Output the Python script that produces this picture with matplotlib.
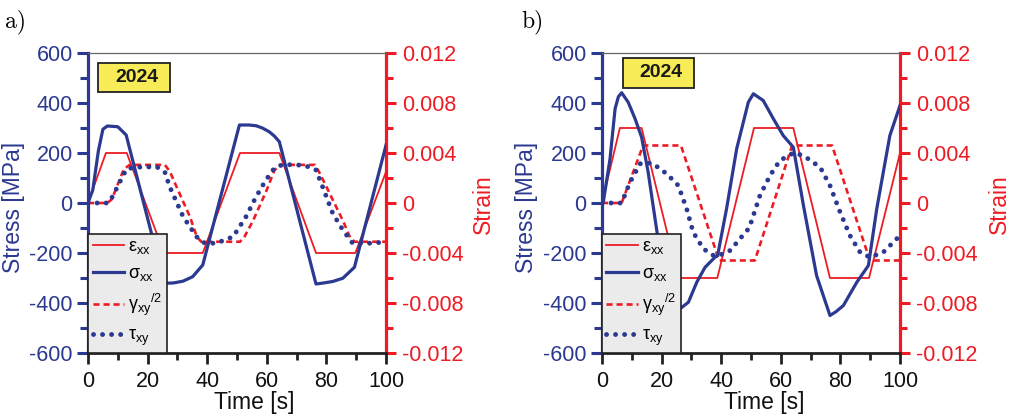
import matplotlib
matplotlib.use('Agg')
import matplotlib.pyplot as plt
from matplotlib.patches import Rectangle
from matplotlib.ticker import MultipleLocator, FuncFormatter

plt.rcParams['font.family'] = ['Liberation Sans', 'DejaVu Sans']
plt.rcParams['axes.unicode_minus'] = False
plt.rcParams['mathtext.default'] = 'regular'

BLUE = '#2b3990'
RED = '#ed1c24'

# ---------------- Panel a data ----------------
t_eps_a = [0, 6, 13, 25.5, 38.5, 51, 64.2, 76.5, 89.7, 100]
eps_a = [0, 0.004, 0.004, -0.004, -0.004, 0.004, 0.004, -0.004, -0.004, 0.0025]

t_sig_a = [0, 1.6, 3.5, 5.0, 6.5, 10, 12.8, 25.6, 28.5, 31.8, 35.1, 38.5, 50.8, 54, 56.4,
           58.5, 60.8, 62.5, 64.2, 76.5, 79, 82.1, 85.5, 89.4, 100]
sig_a = [0, 52, 210, 295, 308, 305, 272, -321, -320, -313, -295, -248, 312, 312, 309,
         300, 285, 268, 245, -324, -320, -314, -301, -257, 232]

t_gam_a = [0, 6.5, 8, 12, 14, 25.8, 27.5, 29.7, 34.2, 36.5, 38, 51, 52.5, 55.4, 59.9,
           62.5, 64.4, 76.1, 77.5, 80.6, 85.7, 88, 89.5, 100]
gam_a = [0, 0, 0.0003, 0.0027, 0.00305, 0.00305, 0.0025, 0.0013, -0.0011, -0.0027, -0.0031,
         -0.0031, -0.0027, -0.0014, 0.001, 0.0026, 0.00305, 0.00305, 0.0025, 0.001, -0.0015,
         -0.0028, -0.0031, -0.0031]

t_tau_a = [0, 6.5, 7.3, 9.5, 12.9, 16.2, 23, 25.8, 27.4, 31.9, 36.4, 39.2, 43, 48.7, 53,
           56.4, 59.7, 62.5, 65, 69.5, 74, 76.5, 78.7, 82.1, 85.5, 88.8, 94.4, 100]
tau_a = [0, 0, 5, 56, 136, 143, 145, 123, 65, -54, -135, -161, -161, -135, -55,
         25, 92, 139, 152, 154, 145, 132, 65, -41, -108, -161, -161, -156]

# ---------------- Panel b data ----------------
t_eps_b = [0, 6, 13.3, 25.6, 38.7, 51, 64.2, 76.5, 89.6, 100]
eps_b = [0, 0.006, 0.006, -0.006, -0.006, 0.006, 0.006, -0.006, -0.006, 0.004]

t_sig_b = [0, 0.4, 2.7, 4.4, 5.5, 6.6, 8.8, 11.1, 13.3, 15.5, 18.3, 20, 21.5, 23, 24.5,
           26.2, 29, 31.8, 34.6, 37.9, 38.8, 41.8, 45.2, 49.1, 50.8, 54.1, 57.5, 60.8,
           64.2, 67.6, 72, 76.5, 78.5, 81, 85.5, 89.4, 92.2, 96.6, 100]
sig_b = [0, 0, 177, 377, 425, 441, 403, 337, 263, 123, -103, -230, -340, -410, -430,
         -423, -397, -317, -257, -217, -210, -23, 217, 403, 437, 410, 337, 270,
         223, -10, -290, -450, -435, -410, -317, -250, -23, 270, 390]

t_gam_b = [0, 6.6, 13.8, 26.5, 39.3, 51.3, 63.8, 77.2, 89.9, 100]
gam_b = [0, 0, 0.0046, 0.0046, -0.0046, -0.0046, 0.0046, 0.0046, -0.0046, -0.0046]

t_tau_b = [0, 6.6, 9.4, 12.8, 16.8, 21.7, 25.6, 28.4, 30.6, 34, 37.4, 38.6, 43, 46.3,
           49.4, 53, 56.4, 59.7, 64.2, 67.6, 73.2, 76.5, 79.9, 83.2, 86.6, 89.9, 94.4, 100]
tau_b = [0, 0, 83, 157, 160, 117, 70, -23, -117, -183, -210, -213, -190, -143,
         -100, 30, 110, 170, 200, 190, 143, 70, -37, -130, -197, -217, -197, -130]

x_ticks = [0, 20, 40, 60, 80, 100]
legend_labels = [r'$ε_{xx}$', r'$σ_{xx}$', r'$γ_{xy}{}^{/2}$', r'$τ_{xy}$']

fig = plt.figure(figsize=(10.21, 4.17), dpi=100)


def strain_fmt(v, pos):
    return '0' if abs(v) < 1e-12 else '%.3f' % v


def panel(left, label, label_x, t_eps, eps, t_sig, sig, t_gam, gam, t_tau, tau,
          box, text_xy, xlab_x, ylab_x, slab_x):
    ax = fig.add_axes([left, 0.1535, 0.2919, 0.7194])
    ax2 = ax.twinx()
    ax.set_zorder(ax2.get_zorder() + 1)
    ax.patch.set_visible(False)

    l_eps, = ax2.plot(t_eps, eps, color=RED, lw=1.3)
    l_gam, = ax2.plot(t_gam, gam, color=RED, lw=1.9, linestyle=(0, (2.3, 1.5)))
    l_sig, = ax.plot(t_sig, sig, color=BLUE, lw=2.3)
    l_tau, = ax.plot(t_tau, tau, color=BLUE, lw=3.5, linestyle=(0, (0.01, 1.85)),
                     dash_capstyle='round')

    ax.set_xlim(0, 100)
    ax.set_ylim(-600, 600)
    ax2.set_ylim(-0.012, 0.012)
    ax.set_xticks(x_ticks)
    ax.xaxis.set_minor_locator(MultipleLocator(10))
    ax.yaxis.set_major_locator(MultipleLocator(200))
    ax.yaxis.set_minor_locator(MultipleLocator(100))
    ax2.yaxis.set_major_locator(MultipleLocator(0.004))
    ax2.yaxis.set_minor_locator(MultipleLocator(0.002))
    ax2.yaxis.set_major_formatter(FuncFormatter(strain_fmt))

    ax.spines['right'].set_visible(False)
    for s in ['left', 'top', 'bottom']:
        ax2.spines[s].set_visible(False)
    ax.spines['left'].set_color(BLUE)
    ax.spines['left'].set_linewidth(2.3)
    ax.spines['bottom'].set_color('#222222')
    ax.spines['bottom'].set_linewidth(2.0)
    ax.spines['top'].set_color('#666666')
    ax.spines['top'].set_linewidth(0.9)
    ax2.spines['right'].set_color(RED)
    ax2.spines['right'].set_linewidth(2.3)

    ax.yaxis.set_ticks_position('left')
    ax.xaxis.set_ticks_position('bottom')
    ax.tick_params(axis='y', which='both', direction='out', color=BLUE, labelcolor=BLUE,
                   width=2.2, labelsize=15.5, pad=3)
    ax.tick_params(axis='y', which='major', length=8)
    ax.tick_params(axis='y', which='minor', length=5.5)
    ax.tick_params(axis='x', which='both', direction='out', color='#222222',
                   labelcolor='#111111', width=2.0, labelsize=15.5, pad=5)
    ax.tick_params(axis='x', which='major', length=8)
    ax.tick_params(axis='x', which='minor', length=5)
    ax2.tick_params(axis='y', which='both', direction='out', color=RED, labelcolor=RED,
                    width=2.2, labelsize=15.5, pad=4)
    ax2.tick_params(axis='y', which='major', length=7.5)
    ax2.tick_params(axis='y', which='minor', length=5)

    ax.set_xlabel('Time [s]', fontsize=16.5, color='#111111')
    ax.xaxis.set_label_coords(xlab_x, -0.128)
    ax.set_ylabel('Stress [MPa]', fontsize=16.5, color=BLUE)
    ax.yaxis.set_label_coords(ylab_x, 0.485)
    ax2.set_ylabel('Strain', fontsize=16.5, color=RED)
    ax2.yaxis.set_label_coords(slab_x, 0.497)

    leg = ax.legend([l_eps, l_sig, l_gam, l_tau], legend_labels, loc='lower left',
                    bbox_to_anchor=(0, 0), borderaxespad=0, fontsize=13,
                    handlelength=1.75, handletextpad=0.2, borderpad=0.25,
                    labelspacing=0.5, fancybox=False, framealpha=1,
                    facecolor='#ebebeb', edgecolor='#222222')
    leg.get_frame().set_linewidth(1.2)

    x0, y0, w, h = box
    ax.add_patch(Rectangle((x0, y0), w, h, transform=ax.transAxes, facecolor='#f7ec57',
                           edgecolor='#222222', lw=1.3, zorder=5, clip_on=False))
    ax.text(text_xy[0], text_xy[1], '2024', transform=ax.transAxes, fontsize=14,
            fontweight='bold', color='#1a1a1a', ha='center', va='center', zorder=6)

    fig.text(label_x, 0.935, label, family='cmr10', fontsize=17, va='baseline')


panel(0.0862, 'a)', 0.0049, t_eps_a, eps_a, t_sig_a, sig_a, t_gam_a, gam_a, t_tau_a, tau_a,
      (0.0345, 0.87, 0.24, 0.097), (0.164, 0.918), 0.557, -0.211, 1.29)
panel(0.5896, 'b)', 0.511, t_eps_b, eps_b, t_sig_b, sig_b, t_gam_b, gam_b, t_tau_b, tau_b,
      (0.0705, 0.883, 0.2385, 0.1), (0.199, 0.934), 0.544, -0.214, 1.295)

fig.savefig('out.png', dpi=100)
